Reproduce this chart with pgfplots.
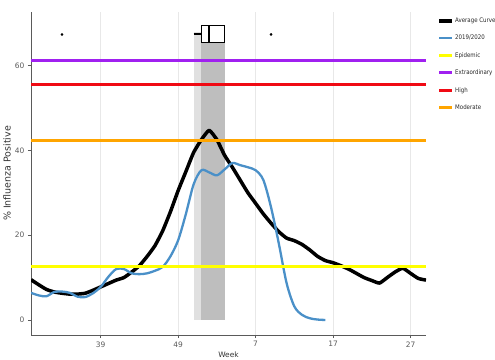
\documentclass[border=0pt]{standalone}
\usepackage{fontspec}
\setmainfont{DejaVu Sans}
\newfontfamily\condfont[FakeStretch=0.87]{DejaVu Sans}
\usepackage{pgfplots}
\pgfplotsset{compat=1.18}
\definecolor{cblue}{RGB}{74,144,200}
\definecolor{cyellow}{RGB}{255,255,0}
\definecolor{cpurple}{RGB}{160,32,240}
\definecolor{cred}{RGB}{240,10,20}
\definecolor{corange}{RGB}{255,165,0}
\definecolor{lgray}{RGB}{224,224,224}
\definecolor{dgray}{RGB}{190,190,190}
\definecolor{axgray}{RGB}{90,90,90}
\definecolor{gridgray}{RGB}{232,232,232}
\begin{document}
\begin{tikzpicture}
\begin{axis}[
  scale only axis, width=395bp, height=323bp,
  xmin=30, xmax=81, ymin=-3.54, ymax=72.6,
  axis x line*=bottom, axis y line*=left,
  axis line style={-, draw=axgray, line width=0.6bp},
  xtick={39,49,59,69,79}, xticklabels={39,49,7,17,27},
  ytick={0,20,40,60},
  xmajorgrids, grid style={draw=gridgray, line width=0.7bp},
  tick align=outside, major tick length=3bp,
  tick style={draw=axgray, line width=0.6bp},
  ticklabel style={font=\fontsize{7.5}{8}\selectfont, text=axgray},
  /pgf/number format/assume math mode=true,
  xlabel={Week}, ylabel={\% Influenza Positive},
  every axis x label/.style={at={(axis description cs:0.5,0)}, anchor=center, yshift=-20bp, font=\fontsize{7.5}{8}\selectfont, text=black!80},
  every axis y label/.style={at={([xshift=-24bp]axis description cs:0,0.5)}, rotate=90, anchor=center, font=\fontsize{9.5}{10}\selectfont, text=black!80},
  legend style={at={(axis description cs:1,1)}, anchor=north west, xshift=11bp, yshift=-4.5bp, draw=none, fill=none, inner sep=0pt, font=\condfont\fontsize{6.3}{7}\selectfont, row sep=9.2bp, nodes={inner sep=1bp, text=black!85}},
  legend cell align=left,
  legend image code/.code={\draw[#1] (0bp,0bp) -- (13bp,0bp);},
]
\coordinate (O) at (rel axis cs:0,0);
% legend images
\addlegendimage{black, line width=4bp}
\addlegendimage{cblue, line width=2.5bp}
\addlegendimage{cyellow, line width=3bp}
\addlegendimage{cpurple, line width=3bp}
\addlegendimage{cred, line width=3bp}
\addlegendimage{corange, line width=3bp}
\legend{Average Curve, 2019/2020, Epidemic, Extraordinary, High, Moderate}
% shaded peak window
\addplot[fill=lgray, draw=none, forget plot] coordinates {(51,0)(55,0)(55,67.8)(51,67.8)} -- cycle;
\addplot[fill=dgray, draw=none, forget plot] coordinates {(52,0)(55,0)(55,67.8)(52,67.8)} -- cycle;
% average curve
\addplot[black, line width=3.5bp, line join=round, smooth, tension=0.3, forget plot] coordinates {
(30,9.5)(31,8.3)(32,7.2)(33,6.6)(34,6.3)(35,6.1)(36,6.1)(37,6.3)(38,7)(39,7.8)
(40,8.6)(41,9.4)(42,10)(43,11.3)(44,12.8)(45,15)(46,17.5)(47,21)(48,25.5)(49,30.5)
(50,35)(51,39.5)(52,42.5)(53,44.7)(54,42.5)(55,38.8)(56,36)(57,33)(58,30)(59,27.5)
(60,25)(61,22.8)(62,20.8)(63,19.3)(64,18.7)(65,17.8)(66,16.5)(67,15)(68,14)(69,13.5)
(70,12.8)(71,12)(72,11)(73,10)(74,9.3)(75,8.7)(76,10)(77,11.3)(78,12.2)(79,11)
(80,9.8)(81,9.4)};
% 2019/2020
\addplot[cblue, line width=2.3bp, line join=round, smooth, tension=0.5, forget plot] coordinates {
(30,6.4)(31,5.8)(32,5.6)(33,6.6)(34,6.7)(35,6.4)(36,5.5)(37,5.4)(38,6.3)(39,7.8)
(40,10.2)(41,12)(42,12)(43,11)(44,10.8)(45,11)(46,11.6)(47,12.5)(48,15)(49,18.8)
(50,25)(51,32)(52,35.3)(53,34.8)(54,34.1)(55,35.5)(56,37)(57,36.5)(58,36)(59,35.3)
(60,33)(61,26.5)(62,18)(63,8.7)(64,3.2)(65,1.2)(66,0.4)(67,0.1)(68,0)};
% thresholds
\addplot[cyellow, line width=3bp, forget plot] coordinates {(30,12.7)(81,12.7)};
\addplot[cpurple, line width=3bp, forget plot] coordinates {(30,61.2)(81,61.2)};
\addplot[cred, line width=3bp, forget plot] coordinates {(30,55.5)(81,55.5)};
\addplot[corange, line width=3bp, forget plot] coordinates {(30,42.4)(81,42.4)};
% boxplot of peak week
\addplot[black, line width=1.3bp, forget plot] coordinates {(51,67.4)(52,67.4)};
\addplot[black, fill=white, line width=1.3bp, forget plot] coordinates {(52,65.4)(55,65.4)(55,69.4)(52,69.4)} -- cycle;
\addplot[black, line width=1.3bp, forget plot] coordinates {(53,65.4)(53,69.4)};
\addplot[only marks, mark=*, mark size=1.1bp, black, forget plot] coordinates {(34,67.3)(61,67.3)};
\end{axis}
\pgfresetboundingbox
\path[use as bounding box] ([shift={(-31bp,-25bp)}]O) rectangle ++(495bp,360bp);
\end{tikzpicture}
\end{document}
